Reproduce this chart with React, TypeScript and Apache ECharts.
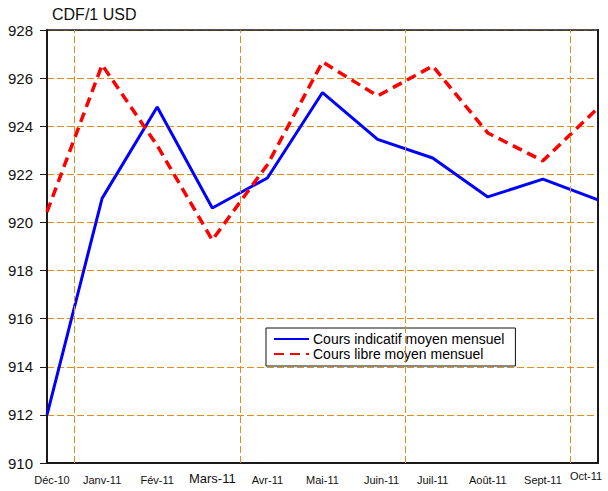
import React, { useEffect, useRef } from "react";
import * as echarts from "echarts";

const months = ["Déc-10", "Janv-11", "Fév-11", "Mars-11", "Avr-11", "Mai-11", "Juin-11", "Juil-11", "Août-11", "Sept-11", "Oct-11"];
const coursIndicatif = [912.0, 921.0, 924.8, 920.6, 921.85, 925.4, 923.45, 922.68, 921.06, 921.8, 920.94];
const coursLibre = [920.44, 926.55, 923.2, 919.27, 922.4, 926.67, 925.26, 926.5, 923.72, 922.56, 924.76];
const quarterLines = [0.5, 3.5, 6.5, 9.5];
const yTicks = { min: 910, max: 928, interval: 2 };

const FONT = "Arial, 'Liberation Sans', sans-serif";
const GRID_COLOR = "#E0901A";

export default function App() {
  const ref = useRef<HTMLDivElement>(null);
  useEffect(() => {
    if (!ref.current) return;
    const chart = echarts.init(ref.current, null, { renderer: "svg" });
    const labelKey = (v: string) => {
      if (v === "Déc-10") return "dec";
      if (v === "Mars-11") return "mars";
      if (v === "Juin-11") return "juin";
      if (v === "Oct-11") return "oct";
      return "n";
    };
    chart.setOption({
      animation: false,
      backgroundColor: "#fff",
      textStyle: { fontFamily: FONT },
      title: {
        text: "CDF/1 USD",
        left: 47,
        top: 1,
        textStyle: { fontFamily: FONT, fontSize: 16, fontWeight: "normal", color: "#111" },
      },
      grid: { left: 47, right: 10, top: 30, bottom: 28 },
      legend: {
        orient: "vertical",
        left: 266,
        top: 328,
        padding: [4, 11, 5, 7],
        itemGap: 1,
        itemWidth: 35,
        itemHeight: 14,
        borderColor: "#111",
        borderWidth: 1,
        backgroundColor: "#fff",
        itemStyle: { opacity: 0 },
        textStyle: { fontFamily: FONT, fontSize: 14, color: "#000", padding: [0, 0, 0, -1] },
        data: ["Cours indicatif moyen mensuel", "Cours libre moyen mensuel"],
      },
      xAxis: [
        {
          type: "category",
          data: months,
          boundaryGap: false,
          z: 1,
          axisLine: { show: true, lineStyle: { color: "#1a1a1a", width: 2 } },
          axisTick: { show: false },
          splitLine: { show: false },
          axisLabel: {
            interval: 0,
            margin: 7,
            color: "#111",
            fontFamily: FONT,
            formatter: (v: string) => `{${labelKey(v)}|${v}}`,
            rich: {
              n: { fontSize: 11, fontFamily: FONT, color: "#111", padding: [4, 0, 0, 0] },
              dec: { fontSize: 11, fontFamily: FONT, color: "#111", padding: [4, 0, 0, 10] },
              juin: { fontSize: 11, fontFamily: FONT, color: "#111", padding: [4, 0, 0, 8] },
              mars: { fontSize: 13, fontFamily: FONT, color: "#111", padding: [2, 0, 0, 0] },
              oct: { fontSize: 11, fontFamily: FONT, color: "#111", padding: [0, 24, 0, 0] },
            },
          },
        },
        {
          type: "value",
          position: "top",
          min: 0,
          max: 10,
          z: 1,
          axisLine: { show: true, lineStyle: { color: "#1a1a1a", width: 1.5 } },
          axisTick: { show: false },
          axisLabel: { show: false },
          splitLine: { show: false },
        },
      ],
      yAxis: [
        {
          type: "value",
          min: yTicks.min,
          max: yTicks.max,
          interval: yTicks.interval,
          z: 1,
          axisLine: { show: true, lineStyle: { color: "#1a1a1a", width: 2 } },
          axisTick: { show: true, inside: false, length: 7, lineStyle: { color: "#1a1a1a", width: 1 } },
          axisLabel: { margin: 14, fontSize: 15, color: "#111", fontFamily: FONT },
          splitLine: { show: true, lineStyle: { color: GRID_COLOR, type: [7, 3], width: 1 } },
        },
        {
          type: "value",
          position: "right",
          min: yTicks.min,
          max: yTicks.max,
          interval: yTicks.interval,
          z: 1,
          axisLine: { show: true, lineStyle: { color: "#1a1a1a", width: 2 } },
          axisTick: { show: false },
          axisLabel: { show: false },
          splitLine: { show: false },
        },
      ],
      series: [
        {
          name: "quarters",
          type: "line",
          xAxisIndex: 1,
          yAxisIndex: 0,
          data: [[0, 910]],
          symbol: "none",
          lineStyle: { width: 0 },
          silent: true,
          z: 0,
          markLine: {
            silent: true,
            symbol: "none",
            label: { show: false },
            lineStyle: { color: GRID_COLOR, type: [7, 3], width: 1 },
            data: quarterLines.map((x) => ({ xAxis: x })),
          },
        },
        {
          name: "Cours indicatif moyen mensuel",
          type: "line",
          data: coursIndicatif,
          symbol: "none",
          z: 3,
          lineStyle: { color: "#0000FF", width: 3 },
          itemStyle: { color: "#0000FF" },
        },
        {
          name: "Cours libre moyen mensuel",
          type: "line",
          data: coursLibre,
          symbol: "none",
          z: 3,
          lineStyle: { color: "#FF0000", width: 3.5, type: [10, 6] },
          itemStyle: { color: "#FF0000" },
        },
      ],
    });
    return () => chart.dispose();
  }, []);
  return <div ref={ref} style={{ width: 608, height: 491, position: "absolute", left: 0, top: 0 }} />;
}
